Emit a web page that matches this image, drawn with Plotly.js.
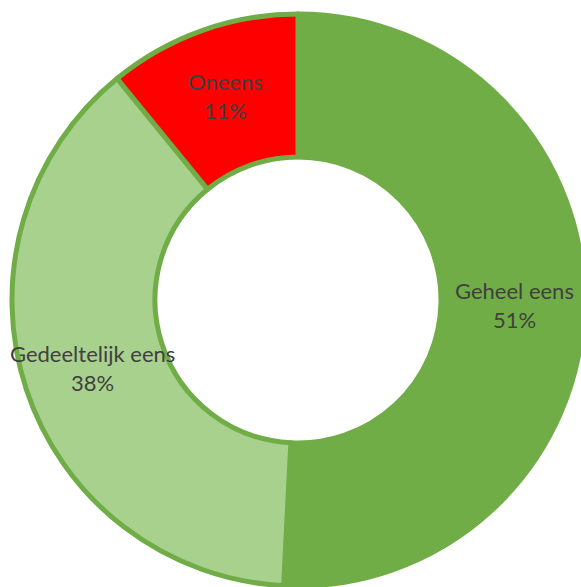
<!DOCTYPE html>
<html>
<head>
<meta charset="utf-8">
<script src="https://cdn.plot.ly/plotly-3.0.1.min.js"></script>
<style>
html, body { margin: 0; padding: 0; overflow: hidden; background: #ffffff; }
#chart { width: 600px; height: 600px; }
</style>
</head>
<body>
<div id="chart"></div>
<script>
const categories = ["Geheel eens", "Gedeeltelijk eens", "Oneens"];
const shares = [50.8, 38.3, 10.9];
const sliceColors = ["#70AD47", "#A9D18E", "#FF0000"];

const W = 600, H = 600;
const cx = 298, cy = 300, R = 286, HOLE = 0.5;

const trace = {
  type: "pie",
  labels: categories,
  values: shares,
  sort: false,
  direction: "clockwise",
  rotation: 0,
  hole: HOLE,
  marker: { colors: sliceColors, line: { color: "#70AD47", width: 5 } },
  textinfo: "none",
  showlegend: false,
  hoverinfo: "none",
  domain: { x: [(cx - R) / W, (cx + R) / W], y: [(H - cy - R) / H, (H - cy + R) / H] }
};

// Labels placed at the middle of each ring sector, derived from the data
const total = shares.reduce((a, b) => a + b, 0);
const rMid = R * (1 + HOLE) / 2 + 2;
let cum = 0;
const annotations = categories.map((c, i) => {
  const mid = (cum + shares[i] / 2) / total * 2 * Math.PI;
  cum += shares[i];
  const px = cx + rMid * Math.sin(mid);
  const py = cy - rMid * Math.cos(mid);
  const pct = Math.round(shares[i] / total * 100);
  return {
    xref: "paper", yref: "paper",
    x: px / W, y: 1 - py / H,
    xanchor: "center", yanchor: "middle",
    text: c + "<br>" + pct + "%",
    showarrow: false,
    font: { family: "Lato, 'Noto Sans', sans-serif", size: 22, color: "#404040" }
  };
});

Plotly.newPlot("chart", [trace], {
  width: W, height: H,
  margin: { l: 0, r: 0, t: 0, b: 0 },
  paper_bgcolor: "#ffffff",
  showlegend: false,
  annotations: annotations
}, { displayModeBar: false, staticPlot: true });
</script>
</body>
</html>
